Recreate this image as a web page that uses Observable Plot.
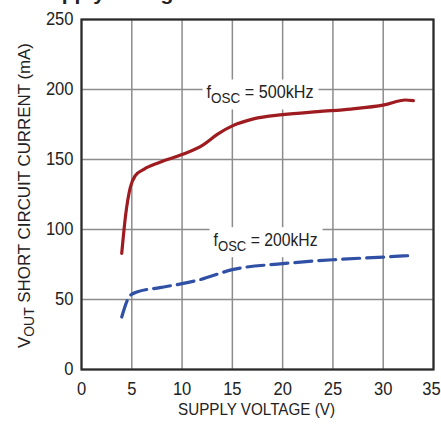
<!DOCTYPE html>
<html><head><meta charset="utf-8">
<script src="https://cdn.jsdelivr.net/npm/d3@7"></script>
<script src="https://cdn.jsdelivr.net/npm/@observablehq/plot@0.6"></script>
<style>body{margin:0;background:#fff} svg{display:block}</style>
</head><body><div id="chart"></div>
<script>
const FONT = '"Liberation Sans", Arial, sans-serif';

// Data
const xTicks = [0, 5, 10, 15, 20, 25, 30, 35];
const yTicks = [0, 50, 100, 150, 200, 250];
const volts500 = [4.0, 4.4, 4.85, 5.35, 6.2, 7.8, 10, 12.1, 13.5, 15, 17.1, 20, 23.5, 26.8, 30.1, 32.2, 33];
const ma500   = [83, 111, 130, 138.5, 143, 148, 153.5, 160.5, 168, 174, 179, 182, 184.2, 186, 189, 192.5, 192];
const volts200 = [4.0, 4.85, 5.5, 7.8, 10, 11.8, 15, 20, 25, 30, 33];
const ma200   = [37.5, 53, 55.3, 58.5, 61.3, 64.2, 71.3, 75.6, 78.4, 80.3, 81.5];
const labelText = ["fOSC = 500kHz", "fOSC = 200kHz"];
const labelX = [17.75, 18.3];
const labelY = [197.7, 92.2];
const xTitle = "SUPPLY VOLTAGE (V)";
const yTitle = ["V", "OUT", " SHORT CIRCUIT CURRENT (mA)"];
const topTitle = "Supply Voltage";

const chart = Plot.plot({
  width: 441, height: 425,
  marginLeft: 81, marginRight: 8, marginTop: 19, marginBottom: 56,
  style: {fontFamily: FONT, fontSize: "18px", color: "#222", background: "white", overflow: "visible"},
  x: {domain: [0, 35], ticks: xTicks, tickSize: 0, tickPadding: 13, label: null},
  y: {domain: [0, 250], ticks: yTicks, tickSize: 0, tickPadding: 8, label: null},
  marks: [
    Plot.ruleX(xTicks, {stroke: "#8c8c8c", strokeWidth: 1.5}),
    Plot.ruleY(yTicks, {stroke: "#8c8c8c", strokeWidth: 1.5}),
    Plot.text(labelText, {x: labelX, y: labelY, text: labelText, fontSize: 18, fill: "#222"}),
    Plot.line(volts500, {x: volts500, y: ma500, stroke: "#9e1b20", strokeWidth: 3.2, curve: "monotone-x"}),
    Plot.line(volts200, {x: volts200, y: ma200, stroke: "#3050a6", strokeWidth: 3.2, strokeDasharray: "17,7", curve: "monotone-x"}),
    Plot.frame({stroke: "#2a2a2a", strokeWidth: 2.2})
  ]
});
document.getElementById("chart").appendChild(chart);

const svg = d3.select(chart);

// condensed tick labels
svg.selectAll('g[aria-label^="x-axis"] text, g[aria-label^="y-axis"] text').each(function() {
  const s = this.textContent;
  this.setAttribute("textLength", (s.length * 9.2).toFixed(1));
  this.setAttribute("lengthAdjust", "spacingAndGlyphs");
  if (s === "35") this.setAttribute("dx", "-2");
});

// subscripted curve labels with white boxes
const labelWidths = [107, 104];
svg.selectAll('g[aria-label="text"] text').each(function(d, i) {
  const t = d3.select(this);
  const s = t.text();
  t.text("");
  t.append("tspan").text(s.slice(0, 1));
  t.append("tspan").attr("font-size", 15).attr("dy", 5).text(s.slice(1, 4));
  t.append("tspan").attr("dy", -5).text(s.slice(4));
  t.attr("textLength", labelWidths[i]).attr("lengthAdjust", "spacingAndGlyphs");
  const bb = this.getBBox();
  const r = document.createElementNS("http://www.w3.org/2000/svg", "rect");
  r.setAttribute("x", bb.x - 4); r.setAttribute("y", bb.y - 3);
  r.setAttribute("width", bb.width + 9); r.setAttribute("height", bb.height + 6);
  r.setAttribute("fill", "white");
  if (this.getAttribute("transform")) r.setAttribute("transform", this.getAttribute("transform"));
  this.parentNode.insertBefore(r, this);
});

// y axis title
const yt = svg.append("text")
  .attr("transform", "translate(29.5,195.5) rotate(-90)")
  .attr("text-anchor", "middle")
  .attr("font-size", 17).attr("fill", "#222")
  .attr("textLength", 305).attr("lengthAdjust", "spacingAndGlyphs");
yt.append("tspan").text(yTitle[0]);
yt.append("tspan").attr("font-size", 14).attr("dy", 4).text(yTitle[1]);
yt.append("tspan").attr("dy", -4).text(yTitle[2]);

// x axis title
svg.append("text")
  .attr("x", 256.5).attr("y", 414.5)
  .attr("text-anchor", "middle")
  .attr("font-size", 16.5).attr("fill", "#222")
  .attr("textLength", 157).attr("lengthAdjust", "spacingAndGlyphs")
  .text(xTitle);

// chart title, cut off by the top edge as in the reference
svg.append("text")
  .attr("x", 110).attr("y", 0)
  .attr("font-size", 21).attr("font-weight", "bold").attr("fill", "#222")
  .text(topTitle);
</script>
</body></html>
